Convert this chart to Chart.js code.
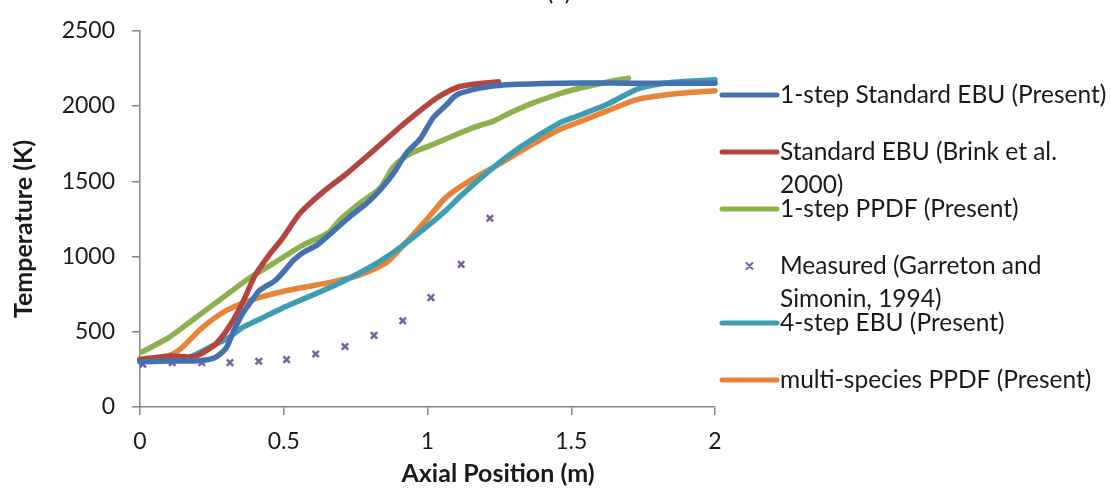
<!DOCTYPE html>
<html>
<head>
<meta charset="utf-8">
<script src="https://cdn.jsdelivr.net/npm/chart.js@4"></script>
<style>
  html, body { margin: 0; padding: 0; background: #fff; }
  #wrap { width: 1111px; height: 489px; }
</style>
</head>
<body>
<div id="wrap"><canvas id="tempChart" width="1111" height="489"></canvas></div>
<script>
// ===== DATA =====
const xTicks = [0, 0.5, 1, 1.5, 2];
const yTicks = [0, 500, 1000, 1500, 2000, 2500];

const ebu1X = [0, 0.1, 0.2, 0.26, 0.3, 0.325, 0.36, 0.394, 0.417, 0.47, 0.5, 0.534, 0.57, 0.615, 0.673, 0.731, 0.789, 0.835, 0.881, 0.928, 0.974, 1.02, 1.067, 1.102, 1.183, 1.275, 1.461, 1.7, 2.0];
const ebu1Y = [300, 305, 308, 328, 393, 503, 630, 721, 776, 840, 900, 975, 1030, 1075, 1170, 1267, 1354, 1442, 1551, 1690, 1780, 1923, 2010, 2075, 2119, 2141, 2152, 2152, 2152];

const brinkX = [0, 0.1, 0.19, 0.261, 0.307, 0.353, 0.4, 0.447, 0.493, 0.557, 0.638, 0.719, 0.812, 0.916, 1.032, 1.113, 1.247];
const brinkY = [315, 338, 336, 415, 524, 678, 874, 1005, 1114, 1289, 1431, 1551, 1704, 1879, 2054, 2130, 2162];

const ppdf1X = [0.006, 0.098, 0.191, 0.284, 0.377, 0.47, 0.562, 0.655, 0.696, 0.765, 0.835, 0.881, 0.939, 1.009, 1.09, 1.159, 1.229, 1.299, 1.368, 1.449, 1.507, 1.623, 1.699];
const ppdf1Y = [365, 459, 590, 721, 852, 961, 1071, 1158, 1245, 1354, 1455, 1595, 1682, 1737, 1802, 1857, 1900, 1966, 2021, 2075, 2108, 2158, 2185];

const measuredX = [0.01, 0.112, 0.215, 0.313, 0.413, 0.51, 0.611, 0.713, 0.814, 0.914, 1.012, 1.117, 1.217];
const measuredY = [284, 295, 295, 295, 304, 315, 352, 402, 476, 573, 727, 948, 1254];

const ebu4X = [0, 0.098, 0.168, 0.238, 0.307, 0.353, 0.423, 0.493, 0.586, 0.678, 0.789, 0.881, 0.986, 1.067, 1.113, 1.217, 1.322, 1.461, 1.507, 1.623, 1.739, 1.855, 2.0];
const ebu4Y = [306, 317, 328, 393, 459, 524, 590, 655, 732, 809, 917, 1027, 1180, 1311, 1398, 1573, 1726, 1890, 1923, 2010, 2119, 2158, 2174];

const multiX = [0, 0.098, 0.145, 0.215, 0.284, 0.353, 0.423, 0.516, 0.609, 0.678, 0.765, 0.858, 0.904, 0.997, 1.067, 1.159, 1.252, 1.357, 1.461, 1.507, 1.623, 1.728, 1.855, 2.0];
const multiY = [317, 339, 393, 524, 623, 688, 732, 776, 809, 835, 878, 961, 1049, 1245, 1398, 1518, 1617, 1737, 1846, 1879, 1966, 2043, 2080, 2102];

// legend labels, one entry per line as wrapped in the figure
const legendLines = [
    ["1-step Standard EBU (Present)"],
    ["Standard EBU (Brink et al.", "2000)"],
    ["1-step PPDF (Present)"],
    ["Measured (Garreton and", "Simonin, 1994)"],
    ["4-step EBU (Present)"],
    ["multi-species PPDF (Present)"]
];

const FONT = "Lato";

function pts(xs, ys) {
    return xs.map((x, i) => ({ x: x, y: ys[i] }));
}

function lineSet(i, xs, ys, color) {
    return {
        label: legendLines[i].join(" "),
        data: pts(xs, ys),
        showLine: true,
        borderColor: color,
        backgroundColor: color,
        borderWidth: 5.5,
        borderCapStyle: "round",
        borderJoinStyle: "round",
        pointRadius: 0,
        tension: 0.25,
        clip: 6
    };
}

// ===== LEGEND + TITLES drawn by hand (wrapped labels, off-centre titles) =====
const sideLegend = {
    id: "sideLegend",
    afterDraw(chart) {
        const ctx = chart.ctx;
        ctx.save();
        ctx.font = `24.5px ${FONT}`;
        ctx.fillStyle = "#1a1a1a";
        ctx.textBaseline = "middle";
        ctx.textAlign = "left";
        const x0 = 722, x1 = 777, tx = 780;
        let y = 95;
        chart.data.datasets.forEach((ds, i) => {
            if (ds.showLine) {
                ctx.strokeStyle = ds.borderColor;
                ctx.lineWidth = 5;
                ctx.lineCap = "round";
                ctx.beginPath();
                ctx.moveTo(x0, y);
                ctx.lineTo(x1, y);
                ctx.stroke();
            } else {
                const cx = (x0 + x1) / 2;
                ctx.strokeStyle = ds.borderColor;
                ctx.lineWidth = 2;
                ctx.beginPath();
                ctx.moveTo(cx - 3, y - 3); ctx.lineTo(cx + 3, y + 3);
                ctx.moveTo(cx + 3, y - 3); ctx.lineTo(cx - 3, y + 3);
                ctx.stroke();
            }
            legendLines[i].forEach((t, j) => {
                ctx.fillText(t, tx, y + j * 33);
            });
            y += 57;
        });
        // panel label, cut off at the top edge like the figure
        ctx.textAlign = "center";
        ctx.textBaseline = "alphabetic";
        ctx.fillText("(a)", 559, 0);
        // axis titles
        ctx.font = `bold 25px ${FONT}`;
        ctx.textBaseline = "middle";
        ctx.fillText("Axial Position (m)", 498, 474);
        ctx.translate(24, 229);
        ctx.rotate(-Math.PI / 2);
        ctx.fillText("Temperature (K)", 0, 0);
        ctx.restore();
    }
};

const tempChart = new Chart(
    document.getElementById("tempChart").getContext("2d"),
    {
        type: "scatter",
        data: {
            datasets: [
                lineSet(0, ebu1X, ebu1Y, "#4472B0"),
                lineSet(1, brinkX, brinkY, "#B4453F"),
                lineSet(2, ppdf1X, ppdf1Y, "#8DB14C"),
                {
                    label: legendLines[3].join(" "),
                    data: pts(measuredX, measuredY),
                    showLine: false,
                    pointStyle: "crossRot",
                    pointRadius: 4.5,
                    borderWidth: 2.5,
                    borderColor: "#7B5EA0",
                    backgroundColor: "#7B5EA0"
                },
                lineSet(4, ebu4X, ebu4Y, "#3D9DB5"),
                lineSet(5, multiX, multiY, "#E8843A")
            ]
        },
        options: {
            responsive: false,
            animation: false,
            layout: { padding: { top: 25, right: 396, left: 0, bottom: 0 } },
            plugins: {
                legend: { display: false },
                tooltip: { enabled: false }
            },
            scales: {
                x: {
                    type: "linear",
                    min: 0,
                    max: 2,
                    afterFit: (s) => { s.height = 82; },
                    afterBuildTicks: (s) => { s.ticks = xTicks.map(v => ({ value: v })); },
                    border: { color: "#868686", width: 1.5 },
                    grid: { drawOnChartArea: false, drawTicks: true, tickLength: 8, color: "#868686", lineWidth: 1.5 },
                    ticks: {
                        color: "#1a1a1a",
                        font: { family: FONT, size: 23 },
                        padding: 13,
                        maxRotation: 0,
                        callback: (v) => String(v)
                    }
                },
                y: {
                    min: 0,
                    max: 2500,
                    afterFit: (s) => { s.width = 140; },
                    afterBuildTicks: (s) => { s.ticks = yTicks.map(v => ({ value: v })); },
                    border: { color: "#868686", width: 1.5 },
                    grid: { drawOnChartArea: false, drawTicks: true, tickLength: 8, color: "#868686", lineWidth: 1.5 },
                    ticks: {
                        color: "#1a1a1a",
                        font: { family: FONT, size: 23 },
                        padding: 17,
                        callback: (v) => String(v)
                    }
                }
            }
        },
        plugins: [sideLegend]
    }
);
</script>
</body>
</html>
